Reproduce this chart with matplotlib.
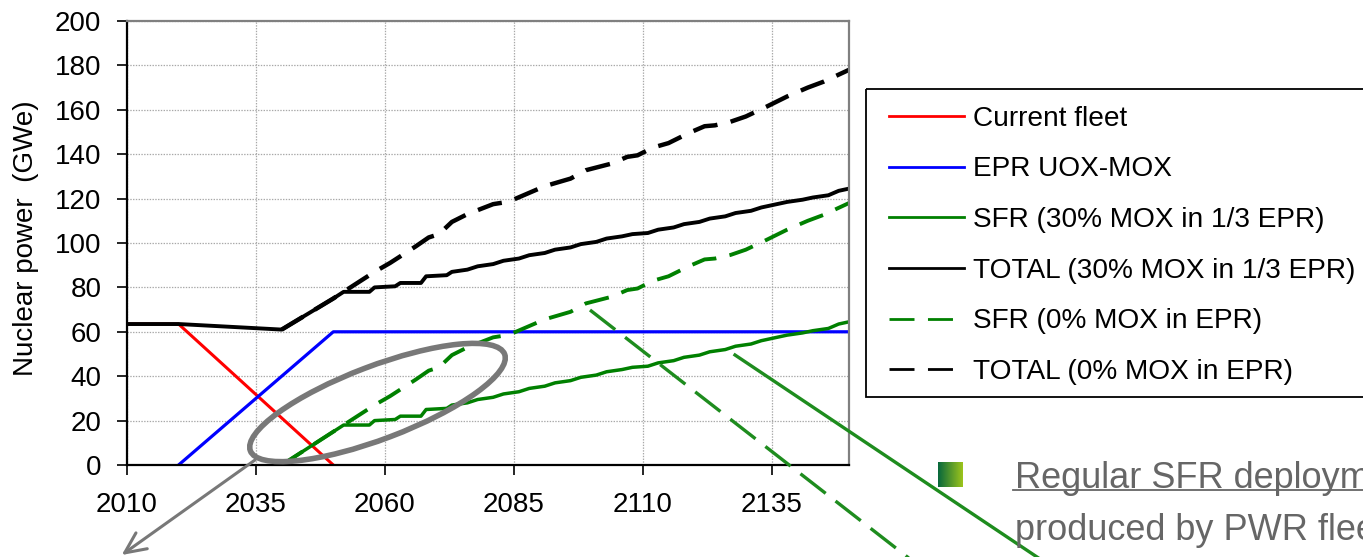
import numpy as np
import matplotlib
matplotlib.use("Agg")
import matplotlib.pyplot as plt
from matplotlib.patches import Ellipse, Rectangle
from matplotlib.lines import Line2D
from matplotlib.colors import LinearSegmentedColormap

plt.rcParams["font.family"] = ["Liberation Sans", "DejaVu Sans"]
plt.rcParams["lines.scale_dashes"] = False

# ---- data ----
years_fleet = [2010, 2020, 2050]
fleet = [63.5, 63.5, 0]

years_epr = [2020, 2050, 2150]
epr = [0, 60, 60]

years_tot30 = [2010, 2020, 2040, 2045, 2050, 2052, 2057, 2058, 2062, 2063, 2067, 2068,
               2072, 2073, 2076, 2078, 2081, 2083, 2086, 2088, 2091, 2093, 2096, 2098,
               2101, 2103, 2106, 2108, 2111, 2113, 2116, 2118, 2121, 2123, 2126, 2128,
               2131, 2133, 2136, 2138, 2141, 2143, 2146, 2148, 2150]
tot30 = [63.5, 63.5, 61.0, 68.0, 75.0, 78.0, 78.0, 80.0, 80.5, 82.0, 82.0, 85.0,
         85.5, 87.0, 88.0, 89.5, 90.5, 92.0, 93.0, 94.5, 95.5, 97.0, 98.0, 99.5,
         100.5, 102.0, 103.0, 104.0, 104.5, 106.0, 107.0, 108.5, 109.5, 111.0, 112.0, 113.5,
         114.5, 116.0, 117.5, 118.5, 119.5, 120.5, 121.5, 123.5, 124.5]

years_sfr30 = [2040, 2045, 2050, 2052, 2057, 2058, 2062, 2063, 2067, 2068,
               2072, 2073, 2076, 2078, 2081, 2083, 2086, 2088, 2091, 2093, 2096, 2098,
               2101, 2103, 2106, 2108, 2111, 2113, 2116, 2118, 2121, 2123, 2126, 2128,
               2131, 2133, 2136, 2138, 2141, 2143, 2146, 2148, 2150]
sfr30 = [0, 7.5, 15.0, 18.0, 18.0, 20.0, 20.5, 22.0, 22.0, 25.0,
         25.5, 27.0, 28.0, 29.5, 30.5, 32.0, 33.0, 34.5, 35.5, 37.0, 38.0, 39.5,
         40.5, 42.0, 43.0, 44.0, 44.5, 46.0, 47.0, 48.5, 49.5, 51.0, 52.0, 53.5,
         54.5, 56.0, 57.5, 58.5, 59.5, 60.5, 61.5, 63.5, 64.5]

years_0 = [2040, 2045, 2050, 2053, 2058, 2061, 2066, 2068.5, 2070.5, 2073, 2076, 2081,
           2084, 2088, 2091, 2096, 2099, 2104, 2107, 2109, 2112, 2115, 2119, 2122,
           2124, 2127, 2130, 2134, 2138, 2142, 2145, 2150]
sfr0 = [0, 7.5, 15.0, 19.5, 27.0, 31.0, 38.5, 42.5, 44.0, 49.5, 53.0, 57.5,
        58.6, 62.6, 65.6, 69.0, 72.8, 75.8, 78.8, 79.5, 83.0, 85.0, 89.6, 92.6,
        93.0, 94.6, 97.0, 101.4, 106.0, 110.0, 112.6, 118.0]
tot0 = [61.0, 68.0, 75.0, 79.5, 87.0, 91.0, 98.5, 102.5, 104.0, 109.5, 113.0, 117.5,
        118.6, 122.6, 125.6, 129.0, 132.8, 135.8, 138.8, 139.5, 143.0, 145.0, 149.6, 152.6,
        153.0, 154.6, 157.0, 161.4, 166.0, 170.0, 172.6, 178.0]

labels = ["Current fleet", "EPR UOX-MOX", "SFR (30% MOX in 1/3 EPR)",
          "TOTAL (30% MOX in 1/3 EPR)", "SFR (0% MOX in EPR)", "TOTAL (0% MOX in EPR)"]
xticks = [2010, 2035, 2060, 2085, 2110, 2135]
yticks = list(range(0, 201, 20))

W, H = 1363, 557
fig = plt.figure(figsize=(W / 100, H / 100), dpi=100)
ax = fig.add_axes([127 / W, 1 - 465 / H, 722 / W, 444 / H])

dash = (0, (18, 9.7))
green = "#008000"
ax.plot(years_fleet, fleet, color="red", lw=2.2)
ax.plot(years_epr, epr, color="blue", lw=2.3)
ax.plot(years_sfr30, sfr30, color=green, lw=2.5)
ax.plot(years_tot30, tot30, color="black", lw=2.8)
ax.plot(years_0, sfr0, color=green, lw=2.8, linestyle=dash)
ax.plot(years_0, tot0, color="black", lw=3.2, linestyle=dash)

ax.set_xlim(2010, 2150)
ax.set_ylim(0, 200)
ax.set_xticks(xticks)
ax.set_yticks(yticks)
ax.grid(True, color="#a8a8a8", lw=0.9, linestyle=(0, (1, 1)))
ax.set_axisbelow(True)
for s in ["left", "bottom"]:
    ax.spines[s].set_color("black")
    ax.spines[s].set_linewidth(1.6)
for s in ["top", "right"]:
    ax.spines[s].set_color("#808080")
    ax.spines[s].set_linewidth(1.6)
ax.tick_params(axis="y", direction="out", length=7.5, width=1.2, pad=11, labelsize=20)
ax.tick_params(axis="x", direction="out", length=7, width=1.2, pad=12.5, labelsize=20)
ax.set_ylabel("Nuclear power  (GWe)", fontsize=20, va="center")
ax.yaxis.set_label_coords(-0.14, 0.51)

# overlay in pixel coordinates for the legend box and the slide annotations
ov = fig.add_axes([0, 0, 1, 1])
ov.set_xlim(0, W)
ov.set_ylim(H, 0)
ov.axis("off")
ov.patch.set_alpha(0)

ov.add_patch(Rectangle((866, 89), W, 308, fill=False, edgecolor="black", lw=1.3))

handles = [Line2D([], [], color="red", lw=2),
           Line2D([], [], color="blue", lw=2),
           Line2D([], [], color=green, lw=2),
           Line2D([], [], color="black", lw=2),
           Line2D([], [], color=green, lw=2, linestyle=(0, (18, 9.7))),
           Line2D([], [], color="black", lw=2, linestyle=(0, (18, 9.7)))]
fig.legend(handles, labels, loc="upper left", bbox_to_anchor=(873 / W, 1 - 90 / H),
           borderaxespad=0, fontsize=20.2, handlelength=2.7, handletextpad=0.32,
           labelspacing=0.88, borderpad=0.56, frameon=False)

gray = "#787878"
ov.add_patch(Ellipse((377.5, 402.5), 272, 73, angle=-20.8, fill=False,
                     edgecolor=gray, lw=4))
ov.annotate("", xy=(121.7, 555), xytext=(255, 460),
            arrowprops=dict(arrowstyle="->,head_length=1.5,head_width=0.7",
                            color=gray, lw=2.2, mutation_scale=10,
                            shrinkA=0, shrinkB=0))
ov.plot([590, 910], [310, 559], color="#1e8c1e", lw=2.4, linestyle=(0, (23, 9)))
ov.plot([735, 1040], [355, 559], color="#1e8c1e", lw=2.4)

cmap = LinearSegmentedColormap.from_list("bul", ["#08683c", "#9cc41c"])
ov.imshow(np.linspace(0, 1, 50).reshape(1, -1), cmap=cmap, aspect="auto",
          extent=[938, 963, 487, 462], zorder=3)
ov.set_xlim(0, W)
ov.set_ylim(H, 0)

ov.text(1015, 487.5, "Regular SFR deployment", fontsize=26, color="#666666",
        ha="left", va="baseline")
ov.plot([1013, W], [490, 490], color="#666666", lw=1.3)
ov.text(1015, 539.5, "produced by PWR fleet", fontsize=26, color="#666666",
        ha="left", va="baseline")

fig.savefig("out.png", dpi=100)
